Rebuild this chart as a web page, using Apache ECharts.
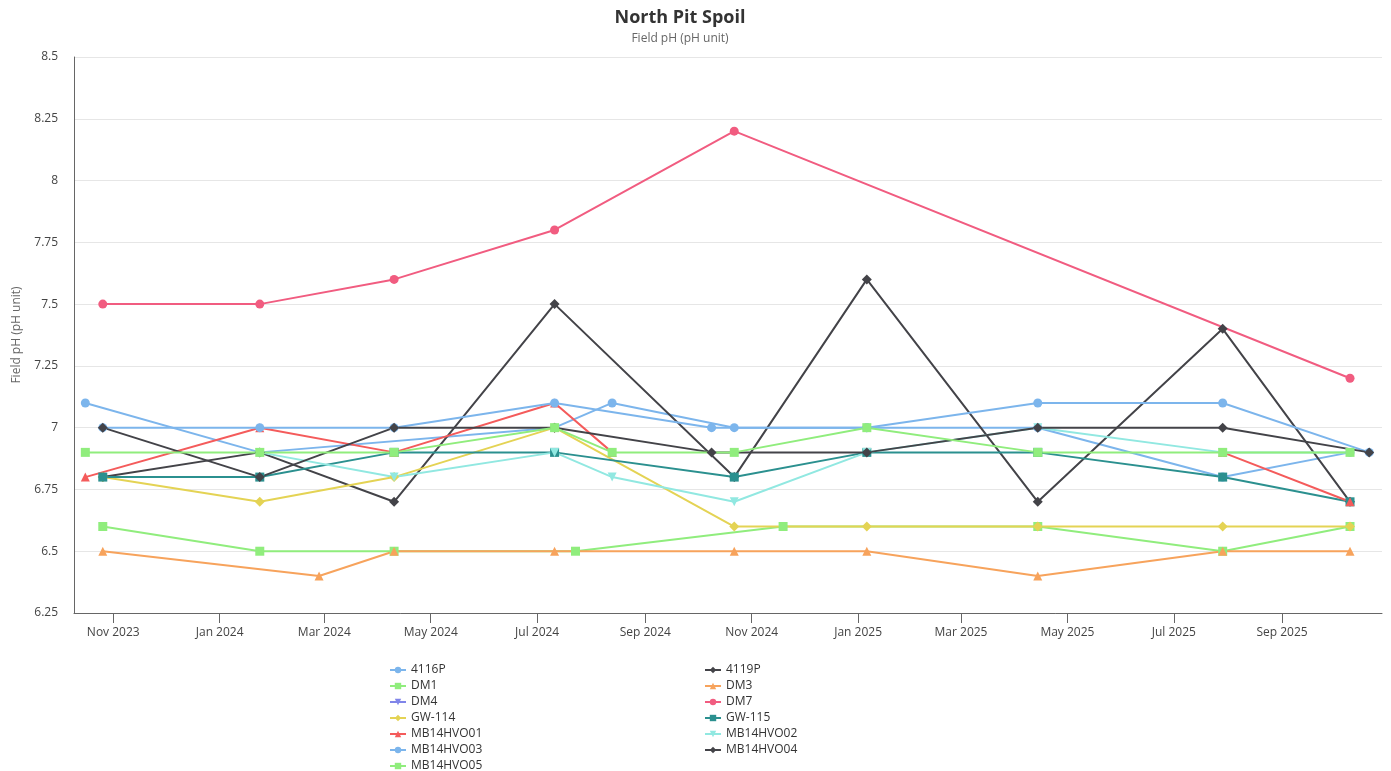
<!DOCTYPE html>
<html>
<head>
<meta charset="utf-8">
<title>North Pit Spoil</title>
<script src="https://cdn.jsdelivr.net/npm/echarts@6/dist/echarts.min.js"></script>
<style>
    html, body { margin: 0; padding: 0; background: #fff; }
    #main { width: 1391px; height: 771px; }
</style>
</head>
<body>
<div id="main"></div>
<script>
// sampling dates (shared by all wells), null = no sample that day, '-' = break in the line
let sampleDates = ['2023-10-16', '2023-10-26', '2024-01-24', '2024-02-27', '2024-04-10', '2024-07-11', '2024-07-23', '2024-08-13',
    '2024-10-09', '2024-10-22', '2024-11-19', '2025-01-06', '2025-04-14', '2025-07-29', '2025-10-10', '2025-10-21'];

let ph4116P     = [7.1, null, 6.9, null, null, 7.0, null, 7.1, null, 7.0, null, 7.0, 7.0, 6.8, 6.9, null];
let ph4119P     = [null, 6.8, 6.9, null, 6.7, 7.5, null, null, null, 6.8, null, 7.6, 6.7, 7.4, 6.7, null];
let phDM1       = [null, 6.6, 6.5, null, 6.5, null, 6.5, null, null, null, 6.6, null, 6.6, 6.5, 6.6, null];
let phDM3       = [null, 6.5, null, 6.4, 6.5, 6.5, null, null, null, 6.5, null, 6.5, 6.4, 6.5, 6.5, null];
let phDM4       = [null, null, null, null, null, null, null, null, null, null, null, null, null, null, null, null];
let phDM7       = [null, 7.5, 7.5, null, 7.6, 7.8, null, null, null, 8.2, null, null, null, null, 7.2, null];
let phGW114     = [null, 6.8, 6.7, null, 6.8, 7.0, null, null, null, 6.6, null, 6.6, 6.6, 6.6, 6.6, null];
let phGW115     = [null, 6.8, 6.8, null, 6.9, 6.9, null, null, null, 6.8, null, 6.9, 6.9, 6.8, 6.7, null];
let phMB14HVO01 = [6.8, null, 7.0, null, 6.9, 7.1, null, 6.9, null, null, null, '-', null, 6.9, 6.7, null];
let phMB14HVO02 = [null, null, 6.9, null, 6.8, 6.9, null, 6.8, null, 6.7, null, 6.9, 7.0, 6.9, 6.9, null];
let phMB14HVO03 = [null, 7.0, 7.0, null, 7.0, 7.1, null, null, 7.0, null, null, 7.0, 7.1, 7.1, null, 6.9];
let phMB14HVO04 = [null, 7.0, 6.8, null, 7.0, 7.0, null, null, 6.9, null, null, 6.9, 7.0, 7.0, null, 6.9];
let phMB14HVO05 = [6.9, null, 6.9, null, 6.9, 7.0, null, 6.9, null, 6.9, null, 7.0, 6.9, 6.9, 6.9, null];

let wellNames = ['4116P', '4119P', 'DM1', 'DM3', 'DM4', 'DM7', 'GW-114', 'GW-115', 'MB14HVO01', 'MB14HVO02', 'MB14HVO03', 'MB14HVO04', 'MB14HVO05'];
let wellValues = [ph4116P, ph4119P, phDM1, phDM3, phDM4, phDM7, phGW114, phGW115, phMB14HVO01, phMB14HVO02, phMB14HVO03, phMB14HVO04, phMB14HVO05];

let yTicks = [6.25, 6.5, 6.75, 7, 7.25, 7.5, 7.75, 8, 8.25, 8.5];
let monthNames = ['Jan', 'Feb', 'Mar', 'Apr', 'May', 'Jun', 'Jul', 'Aug', 'Sep', 'Oct', 'Nov', 'Dec'];

let colorList = ['#7cb5ec', '#434348', '#90ed7d', '#f7a35c', '#8085e9', '#f15c80', '#e4d354', '#2b908f', '#f45b5b', '#91e8e1'];
let symbolList = ['circle', 'diamond', 'rect', 'triangle', 'path://M0,0 L10,0 L5,10 Z'];
let symbolSizes = [9, 10, 9, 9, 9];

let twoMonths = 61 * 24 * 3600 * 1000;

let legendStyle = {
    orient: 'vertical',
    top: 659,
    height: 140,
    itemWidth: 16,
    itemHeight: 8,
    itemGap: 4,
    textStyle: { fontSize: 12, color: '#333333', lineHeight: 12 }
};

let option = {
    animation: false,
    textStyle: {
        fontFamily: '"Open Sans", "Noto Sans", sans-serif'
    },
    title: {
        text: 'North Pit Spoil',
        subtext: 'Field pH (pH unit)',
        left: 675,
        top: 4,
        textAlign: 'center',
        itemGap: 6,
        textStyle: {
            fontSize: 18,
            fontWeight: 'bold',
            color: '#333333'
        },
        subtextStyle: {
            fontSize: 12,
            color: '#666666'
        }
    },
    legend: [
        Object.assign({}, legendStyle, {
            left: 384,
            data: ['4116P', 'DM1', 'DM4', 'GW-114', 'MB14HVO01', 'MB14HVO03', 'MB14HVO05']
        }),
        Object.assign({}, legendStyle, {
            left: 699,
            data: ['4119P', 'DM3', 'DM7', 'GW-115', 'MB14HVO02', 'MB14HVO04']
        })
    ],
    grid: {
        left: 74,
        right: 9,
        top: 57,
        bottom: 158,
        containLabel: false,
        outerBoundsMode: 'none'
    },
    xAxis: {
        type: 'time',
        min: new Date('2023-10-09T12:00:00').getTime(),
        max: new Date('2025-10-28T08:00:00').getTime(),
        splitNumber: 12,
        minInterval: twoMonths,
        maxInterval: twoMonths,
        axisLine: { lineStyle: { color: '#666666', width: 1 } },
        axisTick: { show: true, length: 10, lineStyle: { color: '#666666' } },
        axisLabel: {
            color: '#444444',
            fontSize: 12,
            margin: 14,
            hideOverlap: false,
            formatter: function (value) {
                let d = new Date(value);
                return monthNames[d.getMonth()] + ' ' + d.getFullYear();
            }
        },
        splitLine: { show: false }
    },
    yAxis: {
        type: 'value',
        min: yTicks[0],
        max: yTicks[yTicks.length - 1],
        interval: 0.25,
        name: 'Field pH (pH unit)',
        nameLocation: 'middle',
        nameGap: 51,
        nameTextStyle: { color: '#666666', fontSize: 12 },
        axisLine: { show: true, lineStyle: { color: '#666666', width: 1 } },
        axisTick: { show: false },
        axisLabel: { color: '#444444', fontSize: 12, margin: 16 },
        splitLine: { lineStyle: { color: '#e6e6e6' } }
    },
    series: []
};

for (let i = 0, j = wellNames.length; i < j; i++) {
    let points = [];
    for (let k = 0; k < sampleDates.length; k++) {
        if (wellValues[i][k] !== null) {
            points.push([sampleDates[k], wellValues[i][k]]);
        }
    }
    option.series[i] = {
        name: wellNames[i],
        type: 'line',
        data: points,
        symbol: symbolList[i % symbolList.length],
        symbolSize: symbolSizes[i % symbolSizes.length],
        showAllSymbol: true,
        connectNulls: false,
        color: colorList[i % colorList.length],
        lineStyle: { width: 2 },
        itemStyle: { color: colorList[i % colorList.length] }
    };
}

let phChart = echarts.init(document.getElementById('main'));
phChart.setOption(option);
</script>
</body>
</html>
